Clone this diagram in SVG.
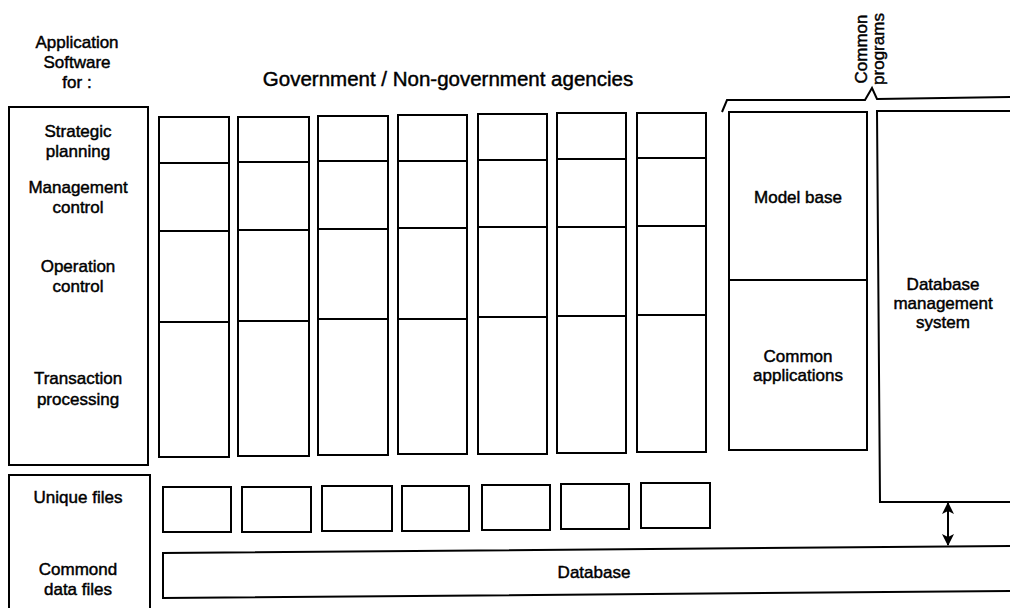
<svg xmlns="http://www.w3.org/2000/svg" width="1010" height="608" viewBox="0 0 1010 608">
<style>
.b{fill:none;stroke:#000;stroke-width:2}
.t{font-family:"Liberation Sans",Arial,sans-serif;font-size:17px;fill:#000;stroke:#000;stroke-width:0.45;text-anchor:middle}
</style>
<defs>
<marker id="ah" markerWidth="12" markerHeight="12" refX="11" refY="6" orient="auto-start-reverse" markerUnits="userSpaceOnUse">
<path d="M0,0 L12,6 L0,12 L3,6 Z" fill="#000"/>
</marker>
</defs>
<rect width="1010" height="608" fill="#fff"/>
<g id="header">
<text class="t" x="77" y="48">Application</text>
<text class="t" x="77" y="68">Software</text>
<text class="t" x="77" y="88">for :</text>
<text class="t" x="448" y="86" style="font-size:20.5px">Government / Non-government agencies</text>
<text class="t" transform="translate(867,49) rotate(-90)">Common</text>
<text class="t" transform="translate(884,49) rotate(-90)">programs</text>
<path class="b" d="M722,112 L727,100 L865,100 L872,88 L877,99 L1012,97"/>
</g>
<g id="levels">
<rect class="b" x="9" y="107" width="139" height="358"/>
<text class="t" x="78" y="137">Strategic</text>
<text class="t" x="78" y="157">planning</text>
<text class="t" x="78" y="193">Management</text>
<text class="t" x="78" y="213">control</text>
<text class="t" x="78" y="272">Operation</text>
<text class="t" x="78" y="292">control</text>
<text class="t" x="78" y="384">Transaction</text>
<text class="t" x="78" y="405">processing</text>
</g>
<g id="files-label">
<path class="b" d="M9,612 L9,475 L150,475 L150,612"/>
<text class="t" x="78" y="503">Unique files</text>
<text class="t" x="78" y="575">Commond</text>
<text class="t" x="78" y="595">data files</text>
</g>
<g id="col1"><rect class="b" x="159" y="117" width="70" height="340"/><path class="b" d="M159,163 H229 M159,231 H229 M159,322 H229"/></g>
<g id="col2"><rect class="b" x="238" y="117" width="71" height="339"/><path class="b" d="M238,162 H309 M238,230 H309 M238,321 H309"/></g>
<g id="col3"><rect class="b" x="318" y="116" width="70" height="339"/><path class="b" d="M318,161 H388 M318,229 H388 M318,319 H388"/></g>
<g id="col4"><rect class="b" x="398" y="115" width="69" height="339"/><path class="b" d="M398,161 H467 M398,228 H467 M398,319 H467"/></g>
<g id="col5"><rect class="b" x="478" y="114" width="69" height="340"/><path class="b" d="M478,160 H547 M478,227 H547 M478,317 H547"/></g>
<g id="col6"><rect class="b" x="557" y="113" width="69" height="340"/><path class="b" d="M557,159 H626 M557,227 H626 M557,316 H626"/></g>
<g id="col7"><rect class="b" x="637" y="113" width="69" height="339"/><path class="b" d="M637,158 H706 M637,226 H706 M637,315 H706"/></g>
<g id="common-programs">
<rect class="b" x="729" y="112" width="138" height="338"/>
<line class="b" x1="729" y1="280" x2="867" y2="280"/>
<text class="t" x="798" y="203">Model base</text>
<text class="t" x="798" y="362">Common</text>
<text class="t" x="798" y="381">applications</text>
</g>
<g id="dbms">
<path class="b" d="M1012,111 L877,111 L880,502 L1012,502"/>
<text class="t" x="943" y="290">Database</text>
<text class="t" x="943" y="309">management</text>
<text class="t" x="943" y="328">system</text>
</g>
<g id="unique-files">
<rect class="b" x="163" y="487" width="68" height="45"/>
<rect class="b" x="242" y="487" width="69" height="45"/>
<rect class="b" x="322" y="486" width="70" height="45"/>
<rect class="b" x="402" y="486" width="67" height="45"/>
<rect class="b" x="482" y="485" width="68" height="45"/>
<rect class="b" x="561" y="484" width="68" height="45"/>
<rect class="b" x="641" y="483" width="69" height="45"/>
</g>
<g id="database">
<path class="b" d="M1012,546 L163,553 L163,598 L1012,591"/>
<text class="t" x="594" y="578">Database</text>
</g>
<g id="connectors">
<line x1="948" y1="503" x2="948" y2="545" stroke="#000" stroke-width="2" marker-start="url(#ah)" marker-end="url(#ah)"/>
</g>
</svg>
